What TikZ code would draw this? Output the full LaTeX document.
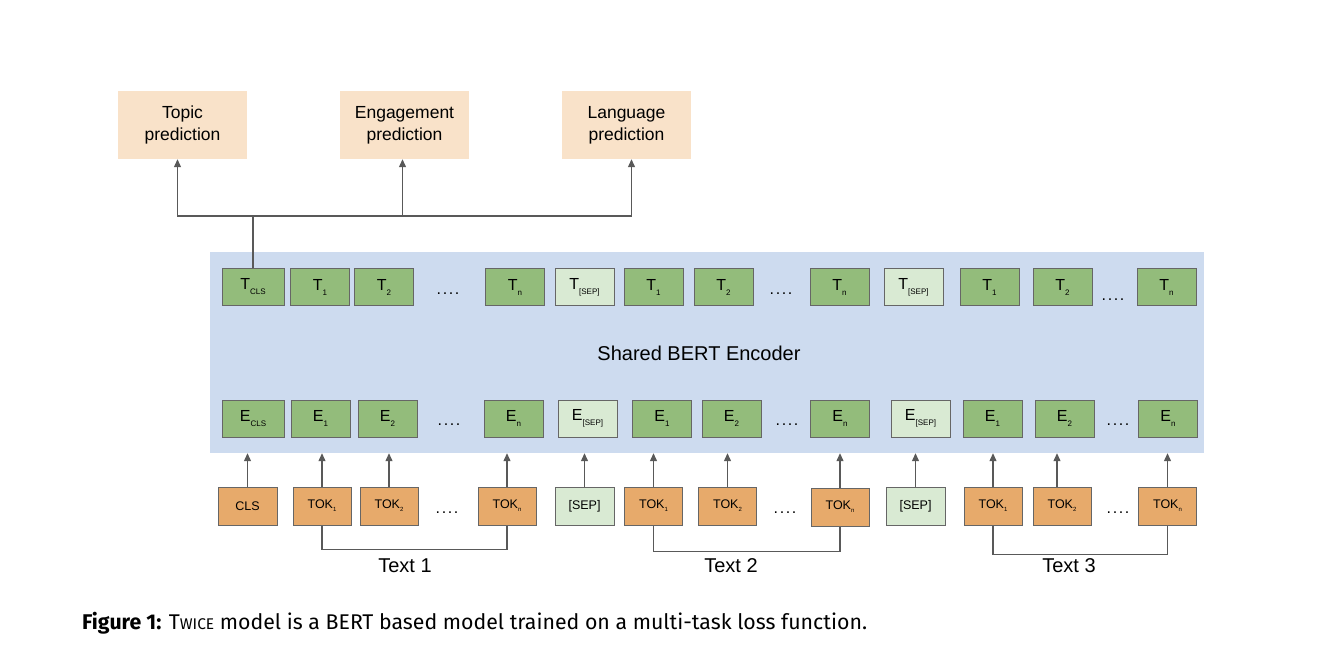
\documentclass[tikz,border=0pt]{standalone}
\usepackage{fontspec}
\setmainfont{Liberation Sans}
\newfontfamily\capfont{Fira Sans}
\usepackage{xcolor}
\usetikzlibrary{arrows.meta,calc}

\definecolor{encblue}{HTML}{CDDBEF}
\definecolor{dgreen}{HTML}{93BC7B}
\definecolor{lgreen}{HTML}{D9EAD3}
\definecolor{tokorange}{HTML}{E7AA6B}
\definecolor{peach}{HTML}{F9E2C9}
\definecolor{edgegray}{HTML}{666666}
\definecolor{arrgray}{HTML}{595959}

\newcommand{\sublbl}[2]{{\fontsize{16}{16}\selectfont #1}\raisebox{-5pt}{\fontsize{8}{8}\selectfont #2}}
\newcommand{\toklbl}[1]{TOK\raisebox{-3pt}{\fontsize{6}{6}\selectfont #1}}
\newcommand{\fourdots}{.\kern1.6pt.\kern1.6pt.\kern1.6pt.}

\tikzset{
  tbox/.style={draw=edgegray,line width=1pt,fill=dgreen,minimum width=59pt,minimum height=37pt,inner sep=0pt},
  sepbox/.style={tbox,fill=lgreen},
  tokbox/.style={tbox,fill=tokorange,minimum width=58pt,minimum height=38pt,font=\fontsize{12.5}{14}\selectfont},
  taskbox/.style={fill=peach,minimum width=129pt,minimum height=68pt,inner sep=0pt,align=center,font=\fontsize{17.5}{22}\selectfont},
  ellip/.style={anchor=base,inner sep=0pt,font=\fontsize{16}{16}\selectfont},
  arr/.style={-{Triangle[length=8pt,width=7pt]},arrgray,line width=1.2pt},
  link/.style={arrgray,line width=1.2pt}
}

\begin{document}
\begin{tikzpicture}[x=1pt,y=-1pt]
        \useasboundingbox (0,0) rectangle (1334,662);
        % task heads
        \node[taskbox] (topic) at (182.5,125) {Topic\\prediction};
        \node[taskbox] (engage) at (404.5,125) {Engagement\\prediction};
        \node[taskbox] (lang) at (626.5,125) {Language\\prediction};
        % encoder block
        \node[fill=encblue,minimum width=994pt,minimum height=201pt,inner sep=0pt] (enc) at (707,352.5) {};
        \node[font=\fontsize{20}{20}\selectfont] (enctxt) at (699,353) {Shared BERT Encoder};
        % output row
        \node[tbox,minimum width=62pt] (tcls) at (253,287) {\sublbl{T}{CLS}};
        \node[tbox] (ta1) at (320,287) {\sublbl{T}{1}};
        \node[tbox] (ta2) at (384,287) {\sublbl{T}{2}};
        \node[ellip] (dta) at (448,294) {\fourdots};
        \node[tbox] (tan) at (515,287) {\sublbl{T}{n}};
        \node[sepbox] (tsa) at (584.5,287) {\sublbl{T}{[SEP]}};
        \node[tbox] (tb1) at (653.5,287) {\sublbl{T}{1}};
        \node[tbox] (tb2) at (723.5,287) {\sublbl{T}{2}};
        \node[ellip] (dtb) at (781,294) {\fourdots};
        \node[tbox] (tbn) at (839.5,287) {\sublbl{T}{n}};
        \node[sepbox] (tsb) at (913.5,287) {\sublbl{T}{[SEP]}};
        \node[tbox] (tc1) at (989.5,287) {\sublbl{T}{1}};
        \node[tbox] (tc2) at (1062.5,287) {\sublbl{T}{2}};
        \node[ellip] (dtc) at (1113,300) {\fourdots};
        \node[tbox] (tcn) at (1166.5,287) {\sublbl{T}{n}};
        % embedding row
        \node[tbox,minimum width=62pt] (ecls) at (253,418.5) {\sublbl{E}{CLS}};
        \node[tbox] (ea1) at (320.5,418.5) {\sublbl{E}{1}};
        \node[tbox] (ea2) at (387.5,418.5) {\sublbl{E}{2}};
        \node[ellip] (dea) at (449,425) {\fourdots};
        \node[tbox] (ean) at (513.5,418.5) {\sublbl{E}{n}};
        \node[sepbox] (esa) at (587.5,418.5) {\sublbl{E}{[SEP]}};
        \node[tbox] (eb1) at (662,418.5) {\sublbl{E}{1}};
        \node[tbox] (eb2) at (731.5,418.5) {\sublbl{E}{2}};
        \node[ellip] (deb) at (787,425) {\fourdots};
        \node[tbox] (ebn) at (840,418.5) {\sublbl{E}{n}};
        \node[sepbox] (esb) at (920.5,418.5) {\sublbl{E}{[SEP]}};
        \node[tbox] (ec1) at (992.5,418.5) {\sublbl{E}{1}};
        \node[tbox] (ec2) at (1064.5,418.5) {\sublbl{E}{2}};
        \node[ellip] (dec) at (1118,425) {\fourdots};
        \node[tbox] (ecn) at (1168,418.5) {\sublbl{E}{n}};
        % input tokens
        \node[tokbox,minimum width=59pt] (cls) at (247.5,506) {CLS};
        \node[tokbox] (ka1) at (322,506) {\toklbl{1}};
        \node[tokbox] (ka2) at (389,506) {\toklbl{2}};
        \node[ellip] (dka) at (447,513) {\fourdots};
        \node[tokbox] (kan) at (507,506) {\toklbl{n}};
        \node[tokbox,fill=lgreen,minimum width=59pt] (ska) at (584.5,506) {[SEP]};
        \node[tokbox] (kb1) at (653.5,506) {\toklbl{1}};
        \node[tokbox] (kb2) at (727.5,506) {\toklbl{2}};
        \node[ellip] (dkb) at (785,513) {\fourdots};
        \node[tokbox] (kbn) at (840,507) {\toklbl{n}};
        \node[tokbox,fill=lgreen,minimum width=59pt] (skb) at (915.5,506) {[SEP]};
        \node[tokbox] (kc1) at (993,506) {\toklbl{1}};
        \node[tokbox] (kc2) at (1062,506) {\toklbl{2}};
        \node[ellip] (dkc) at (1118,513) {\fourdots};
        \node[tokbox] (kcn) at (1167.5,506) {\toklbl{n}};
        % tokens into encoder
        \draw[arr] (cls.north) -- (cls.north |- enc.south);
        \draw[arr] (ka1.north) -- (ka1.north |- enc.south);
        \draw[arr] (ka2.north) -- (ka2.north |- enc.south);
        \draw[arr] (kan.north) -- (kan.north |- enc.south);
        \draw[arr] (ska.north) -- (ska.north |- enc.south);
        \draw[arr] (kb1.north) -- (kb1.north |- enc.south);
        \draw[arr] (kb2.north) -- (kb2.north |- enc.south);
        \draw[arr] (kbn.north) -- (kbn.north |- enc.south);
        \draw[arr] (skb.north) -- (skb.north |- enc.south);
        \draw[arr] (kc1.north) -- (kc1.north |- enc.south);
        \draw[arr] ([xshift=-5pt]kc2.north) -- ([xshift=-5pt]kc2.north |- enc.south);
        \draw[arr] (kcn.north) -- (kcn.north |- enc.south);
        % text spans
        \draw[link] (ka1.south) -- ++(0,24) -| (kan.south);
        \draw[link] (kb1.south) -- ++(0,26) -| (kbn.south);
        \draw[link] (kc1.south) -- ++(0,29) -| (kcn.south);
        \node[font=\fontsize{20}{20}\selectfont] (txt1) at (405,566) {Text 1};
        \node[font=\fontsize{20}{20}\selectfont] (txt2) at (731,566) {Text 2};
        \node[font=\fontsize{20}{20}\selectfont] (txt3) at (1069,566) {Text 3};
        % CLS to task heads
        \coordinate (hub) at (253,216);
        \draw[link] (tcls.north) -- (hub);
        \draw[arr] (hub) -| ([xshift=-5pt]topic.south);
        \draw[arr] (hub) -| ([xshift=-2pt]engage.south);
        \draw[arr] (hub) -| ([xshift=5pt]lang.south);
        % caption
        \node[anchor=west,inner sep=0pt,font=\capfont\fontsize{21.3}{23}\selectfont] (cap) at (82,623)
          {\textbf{Figure 1:} T{\fontsize{15.5}{16}\selectfont WICE} model is a BERT based model trained on a multi-task loss function.};
      \end{tikzpicture}
\end{document}
